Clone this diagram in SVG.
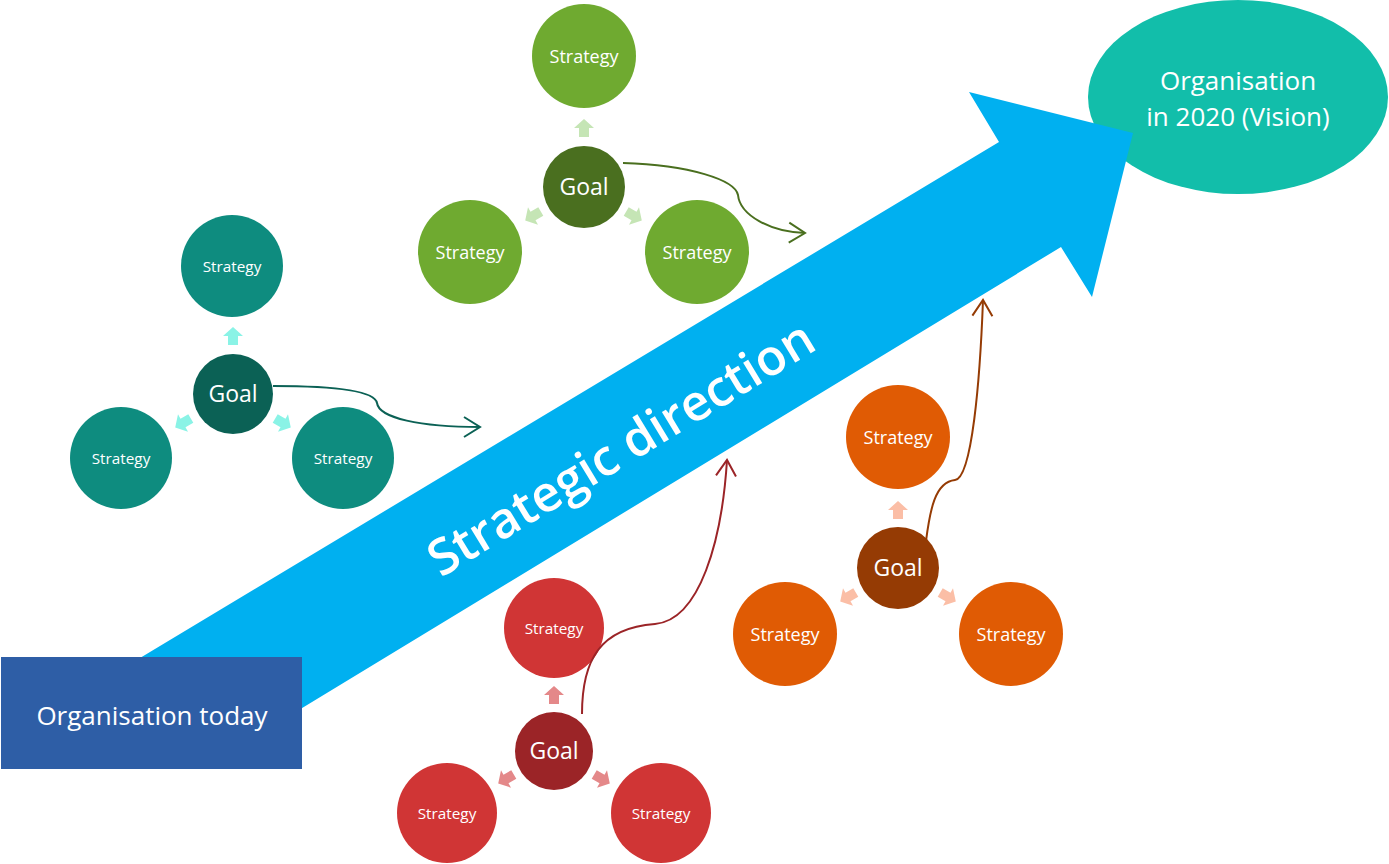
<svg xmlns="http://www.w3.org/2000/svg" width="1389" height="864" viewBox="0 0 1389 864">
<defs>
<style>
.t{font-family:"Open Sans","Noto Sans","DejaVu Sans",sans-serif;fill:#fff;text-anchor:middle;dominant-baseline:central}
.s1{font-size:15.3px}
.s2{font-size:18px}
.g{font-size:23px}
.big{font-size:26px}
.conn{fill:none;stroke-width:2}
</style>
<polygon id="sa" points="0,-9 10,0 5,0 5,9 -5,9 -5,0 -10,0"/>
<marker id="mTeal" viewBox="0 0 20 24" refX="18" refY="12" markerWidth="20" markerHeight="24" markerUnits="userSpaceOnUse" orient="auto"><path d="M2,2 L18,12 L2,22" fill="none" stroke="#0B6155" stroke-width="2"/></marker>
<marker id="mGreen" viewBox="0 0 20 24" refX="18" refY="12" markerWidth="20" markerHeight="24" markerUnits="userSpaceOnUse" orient="auto"><path d="M2,2 L18,12 L2,22" fill="none" stroke="#4A6F1F" stroke-width="2"/></marker>
<marker id="mRed" viewBox="0 0 20 24" refX="18" refY="12" markerWidth="20" markerHeight="24" markerUnits="userSpaceOnUse" orient="auto"><path d="M2,2 L18,12 L2,22" fill="none" stroke="#9B2427" stroke-width="2"/></marker>
<marker id="mOrange" viewBox="0 0 20 24" refX="18" refY="12" markerWidth="20" markerHeight="24" markerUnits="userSpaceOnUse" orient="auto"><path d="M2,2 L18,12 L2,22" fill="none" stroke="#953B04" stroke-width="2"/></marker>
</defs>

<g id="vision">
<ellipse cx="1238" cy="97" rx="150" ry="97" fill="#12BEAA"/>
<text class="t big" x="1238" y="80">Organisation</text>
<text class="t big" x="1238" y="116">in 2020 (Vision)</text>
</g>

<g id="strategic-direction">
<polygon points="140,658 999,142 969,92 1133,133 1092,297 1061,247 220,758" fill="#00B0F0"/>
<text class="t" font-size="50" font-weight="600" transform="translate(620,447) rotate(-31.3)" x="0" y="0">Strategic direction</text>
</g>

<g id="today">
<rect x="1" y="657" width="301" height="112" fill="#2E5EA6"/>
<text class="t big" x="152" y="715">Organisation today</text>
</g>

<g id="teal-cluster">
<circle cx="232" cy="266" r="51" fill="#0E8C7F"/>
<circle cx="121" cy="458" r="51" fill="#0E8C7F"/>
<circle cx="343" cy="458" r="51" fill="#0E8C7F"/>
<circle cx="233" cy="394" r="40" fill="#0B6155"/>
<g fill="#8AF3E6">
<use href="#sa" transform="translate(233,336)"/>
<use href="#sa" transform="translate(183,423) rotate(-120)"/>
<use href="#sa" transform="translate(283,423) rotate(120)"/>
</g>
<text class="t s1" x="232" y="266">Strategy</text>
<text class="t s1" x="121" y="458">Strategy</text>
<text class="t s1" x="343" y="458">Strategy</text>
<text class="t g" x="233" y="393">Goal</text>
</g>

<g id="green-cluster">
<circle cx="584" cy="56" r="52" fill="#6FAA30"/>
<circle cx="470" cy="252" r="52" fill="#6FAA30"/>
<circle cx="697" cy="252" r="52" fill="#6FAA30"/>
<circle cx="584" cy="187" r="41" fill="#4A6F1F"/>
<g fill="#C5E5B5">
<use href="#sa" transform="translate(584,128)"/>
<use href="#sa" transform="translate(533,216) rotate(-120)"/>
<use href="#sa" transform="translate(634,216) rotate(120)"/>
</g>
<text class="t s2" x="584" y="56">Strategy</text>
<text class="t s2" x="470" y="252">Strategy</text>
<text class="t s2" x="697" y="252">Strategy</text>
<text class="t g" x="584" y="186" font-size="24">Goal</text>
</g>

<g id="orange-cluster">
<circle cx="898" cy="437" r="52" fill="#E05B04"/>
<circle cx="785" cy="634" r="52" fill="#E05B04"/>
<circle cx="1011" cy="634" r="52" fill="#E05B04"/>
<circle cx="898" cy="568" r="41" fill="#953B04"/>
<g fill="#FBBEA6">
<use href="#sa" transform="translate(898,510)"/>
<use href="#sa" transform="translate(848,597) rotate(-120)"/>
<use href="#sa" transform="translate(948,597) rotate(120)"/>
</g>
<text class="t s2" x="898" y="437">Strategy</text>
<text class="t s2" x="785" y="634">Strategy</text>
<text class="t s2" x="1011" y="634">Strategy</text>
<text class="t g" x="898" y="567" font-size="24">Goal</text>
</g>

<g id="red-cluster">
<circle cx="554" cy="628" r="50" fill="#D03535"/>
<circle cx="447" cy="813" r="50" fill="#D03535"/>
<circle cx="661" cy="813" r="50" fill="#D03535"/>
<circle cx="554" cy="751" r="39" fill="#9B2427"/>
<g fill="#E48889">
<use href="#sa" transform="translate(554,695)"/>
<use href="#sa" transform="translate(506,779) rotate(-120)"/>
<use href="#sa" transform="translate(602,779) rotate(120)"/>
</g>
<text class="t s1" x="554" y="628">Strategy</text>
<text class="t s1" x="447" y="813">Strategy</text>
<text class="t s1" x="661" y="813">Strategy</text>
<text class="t g" x="554" y="750">Goal</text>
</g>

<g id="connectors">
<path class="conn" stroke="#0B6155" marker-end="url(#mTeal)" d="M273,386 C340,386 375,392 377,403 C379,418 420,427 480,427"/>
<path class="conn" stroke="#4A6F1F" marker-end="url(#mGreen)" d="M623,163 C690,165 735,180 738,195 C740,215 770,232 805,233"/>
<path class="conn" stroke="#9B2427" marker-end="url(#mRed)" d="M582,714 C582,660 600,628 655,624 C700,620 722,540 727,460"/>
<path class="conn" stroke="#953B04" marker-end="url(#mOrange)" d="M926,541 C930,510 935,482 955,480 C972,478 980,380 983,300"/>
</g>
</svg>
